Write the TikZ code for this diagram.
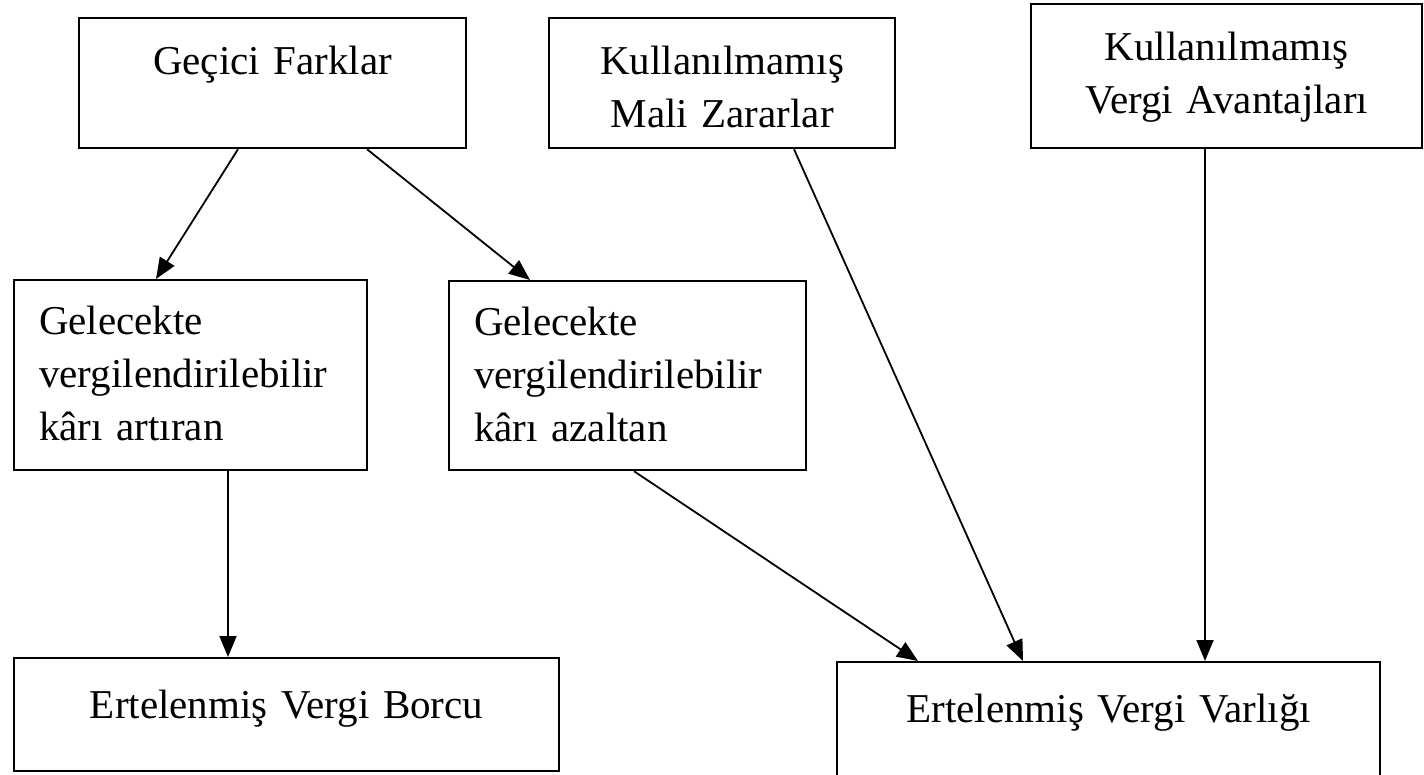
\documentclass[tikz,border=0pt]{standalone}
\usepackage{fontspec}
\setmainfont{Liberation Serif}
\usetikzlibrary{arrows.meta}

\begin{document}
\begin{tikzpicture}[x=1pt, y=-1pt, >={Triangle[length=21pt,width=17pt]},
  font=\fontsize{41}{53}\selectfont,
  kutu/.style={draw, line width=2.2pt, anchor=north west, inner xsep=0pt, inner ysep=0pt, text height=56pt, align=center},
  sol/.style={kutu, align=left, inner xsep=25pt, text height=54pt},
  ok/.style={->, line width=1.8pt}]
\clip (0,0) rectangle (1424,775);
\node[kutu, text width=387pt, text depth=74pt] (gecici) at (78,17) {Geçici Farklar};
\node[kutu, text width=346pt, text depth=74pt] (mali) at (548,17) {Kullanılmamış\\Mali Zararlar};
\node[kutu, text width=391pt, text depth=88pt] (avantaj) at (1030,3) {Kullanılmamış\\Vergi Avantajları};
\node[sol, text width=303pt, text depth=136pt] (artiran) at (13,279) {Gelecekte\\vergilendirilebilir\\kârı artıran};
\node[sol, text width=307pt, text depth=135pt] (azaltan) at (448,280) {Gelecekte\\vergilendirilebilir\\kârı azaltan};
\node[kutu, text width=545pt, text height=60pt, text depth=53pt] (borc) at (13,657) {Ertelenmiş Vergi Borcu};
\node[kutu, text width=543pt, text height=60pt, text depth=70pt] (varlik) at (836,661) {Ertelenmiş Vergi Varlığı};

\draw[ok] ([xshift=160pt]gecici.south west) -- ([xshift=143pt]artiran.north west);
\draw[ok] ([xshift=289pt]gecici.south west) -- ([xshift=82pt]azaltan.north west);
\draw[ok] ([xshift=215pt]artiran.south west) -- ([xshift=215pt]borc.north west);
\draw[ok] ([xshift=186pt]azaltan.south west) -- ([xshift=82pt]varlik.north west);
\draw[ok] ([xshift=246pt]mali.south west) -- ([xshift=187pt]varlik.north west);
\draw[ok] ([xshift=175pt]avantaj.south west) -- ([xshift=369pt]varlik.north west);
\end{tikzpicture}
\end{document}
